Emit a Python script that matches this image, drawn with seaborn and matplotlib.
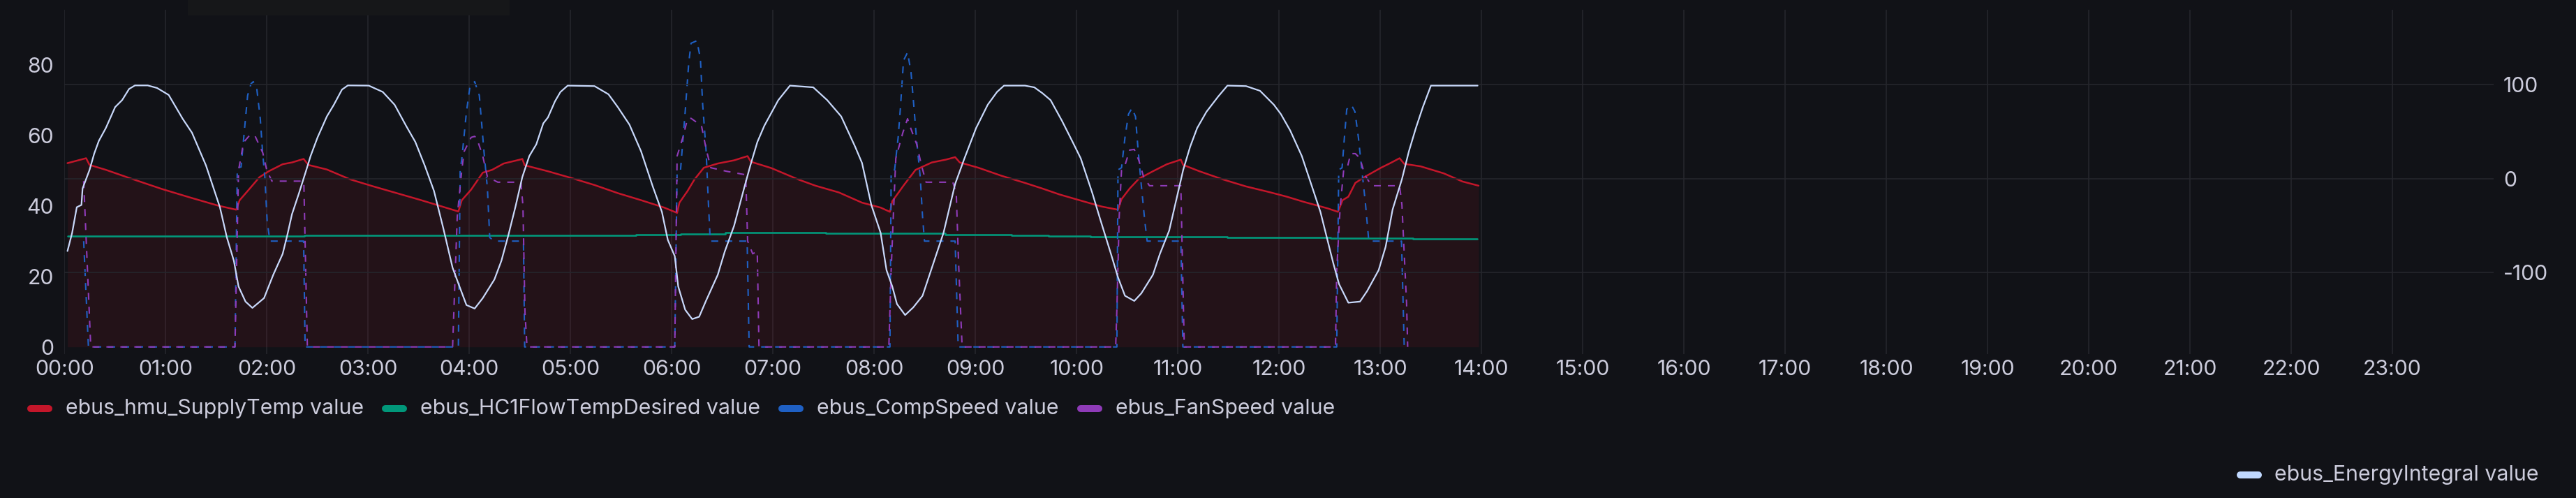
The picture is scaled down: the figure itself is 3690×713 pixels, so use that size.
import matplotlib
matplotlib.use("Agg")
import matplotlib.pyplot as plt
from matplotlib.lines import Line2D
from matplotlib.patches import FancyBboxPatch
import seaborn as sns
import pandas as pd

# ---------------- data (time in hours since 00:00) ----------------
supply_t = [0.03, 0.214, 0.248, 0.41, 0.64, 0.96, 1.237, 1.513, 1.697, 1.731, 1.834, 1.926, 2.018, 2.156,
            2.248, 2.363, 2.41, 2.593, 2.823, 3.053, 3.283, 3.513, 3.743, 3.892, 3.926, 4.018, 4.133, 4.225,
            4.34, 4.5, 4.524, 4.547, 4.777, 5.007, 5.237, 5.467, 5.697, 5.926, 6.053, 6.076, 6.156, 6.225,
            6.317, 6.455, 6.616, 6.749, 6.782, 6.984, 7.248, 7.421, 7.651, 7.88, 8.064, 8.156, 8.179, 8.294,
            8.409, 8.57, 8.708, 8.8, 8.846, 9.03, 9.26, 9.49, 9.662, 9.834, 10.064, 10.248, 10.409, 10.444,
            10.524, 10.616, 10.754, 10.892, 11.03, 11.053, 11.214, 11.444, 11.674, 11.903, 12.076, 12.248,
            12.478, 12.582, 12.628, 12.685, 12.754, 12.846, 13.007, 13.099, 13.191, 13.237, 13.398, 13.628,
            13.812, 13.972]
supply_v = [52.1, 53.5, 51.6, 50.2, 47.9, 44.8, 42.4, 40.1, 38.9, 41.6, 45.0, 48.1, 49.8, 51.8,
            52.3, 53.3, 51.6, 50.3, 47.5, 45.5, 43.6, 41.7, 39.7, 38.4, 41.6, 44.6, 49.4, 50.2,
            52.0, 53.1, 53.3, 51.5, 49.8, 47.9, 45.9, 43.6, 41.6, 39.5, 38.0, 40.9, 44.2, 47.5,
            50.8, 52.0, 52.9, 54.1, 52.5, 50.7, 47.5, 45.7, 43.8, 40.9, 39.5, 38.3, 41.3, 45.9,
            50.2, 52.3, 53.1, 53.8, 52.3, 50.8, 48.5, 46.5, 44.9, 43.2, 41.3, 39.8, 38.9, 41.9,
            44.9, 47.7, 49.8, 51.8, 53.1, 51.6, 49.8, 47.5, 45.5, 43.9, 42.6, 41.1,
            39.3, 38.3, 41.6, 42.6, 46.5, 48.2, 50.8, 52.1, 53.5, 51.9, 51.2, 49.2,
            46.9, 45.7]

flow_t = [0.03, 2.37, 5.65, 6.09, 6.53, 7.52, 8.70, 9.36, 9.72, 10.14, 11.49, 12.51, 13.32, 13.96]
flow_v = [31.5, 31.7, 31.9, 32.1, 32.4, 32.2, 31.9, 31.7, 31.5, 31.3, 31.0, 30.8, 30.7, 30.7]

comp_t = [0.19, 0.237, 1.685, 1.708, 1.745, 1.78, 1.81, 1.843, 1.866, 1.90, 1.935, 1.958, 1.98, 2.003, 2.03, 2.363, 2.378,
          3.892, 3.91, 3.926, 3.972, 4.007, 4.053, 4.099, 4.122, 4.145, 4.179, 4.202, 4.248, 4.535, 4.547,
          6.030, 6.053, 6.087, 6.133, 6.168, 6.191, 6.248, 6.283, 6.306, 6.34, 6.363, 6.381, 6.745, 6.765,
          8.156, 8.168, 8.202, 8.237, 8.26, 8.29, 8.33, 8.364, 8.387, 8.421, 8.455, 8.478, 8.497, 8.80, 8.83,
          10.398, 10.409, 10.444, 10.478, 10.513, 10.547, 10.582, 10.605, 10.639, 10.674, 10.697, 11.03, 11.05,
          12.57, 12.59, 12.623, 12.646, 12.669, 12.715, 12.75, 12.784, 12.818, 12.853, 12.887, 13.21, 13.237]
comp_v = [30, 0, 0, 50.8, 51, 62, 71.3, 74.6, 75.2, 73.3, 64.7, 55.1, 48.2, 35.6, 30, 30, 0,
          0, 50.2, 53.3, 66.7, 73.9, 75.2, 71.3, 63.4, 55.4, 44.9, 31, 30, 30, 0,
          0, 49.8, 50.2, 66.7, 80.5, 86.1, 86.8, 81.8, 68.6, 55.4, 40.3, 30, 30, 0,
          0, 49.8, 50.2, 59.4, 68, 81.2, 83.5, 77.9, 70, 58.1, 48.2, 37, 30, 30, 0,
          0, 50.2, 50.8, 59.4, 66, 67.7, 65.3, 56.8, 45.9, 35.6, 30, 30, 0,
          0, 50.2, 50.8, 59.4, 67.4, 68.6, 66.7, 59.4, 50.2, 40.9, 30, 30, 0]

fan_t = [0.19, 0.26, 1.685, 1.72, 1.77, 1.83, 1.88, 1.96, 2.0, 2.05, 2.365, 2.40,
         3.835, 3.881, 3.926, 3.949, 4.018, 4.053, 4.076, 4.133, 4.179, 4.282, 4.51, 4.53, 4.55, 4.57,
         6.03, 6.053, 6.11, 6.156, 6.191, 6.294, 6.34, 6.386, 6.54, 6.731, 6.75, 6.80, 6.845, 6.862,
         8.145, 8.168, 8.191, 8.214, 8.283, 8.33, 8.352, 8.421, 8.467, 8.513, 8.777, 8.811, 8.834, 8.869,
         10.386, 10.398, 10.421, 10.444, 10.478, 10.524, 10.57, 10.616, 10.662, 10.72, 11.03, 11.041, 11.064,
         12.558, 12.57, 12.604, 12.639, 12.674, 12.708, 12.754, 12.8, 12.846, 12.915, 13.191, 13.214, 13.26, 13.271]
fan_v = [47, 0, 0, 50, 58, 60, 60, 55, 50, 47, 47, 0,
         0, 37, 50.2, 55.4, 59.4, 59.7, 59, 54.1, 48.2, 46.7, 46.7, 40, 10, 0,
         0, 54.1, 59.4, 64.7, 64.8, 62.7, 56.1, 50.8, 49.8, 48.8, 30, 26.4, 27.1, 0,
         0, 21.8, 38.3, 53.5, 60.7, 64.7, 62.7, 57.4, 51.5, 46.7, 46.7, 43.6, 23.8, 0,
         0, 10.6, 37, 50.2, 51.5, 55.8, 56, 52.8, 48.2, 45.7, 45.7, 30.4, 0,
         0, 21.8, 39.6, 50.2, 50.8, 54.8, 54.8, 53.5, 48.8, 45.7, 45.7, 40.3, 12.5, 0]

energy_t = [0.03, 0.076, 0.122, 0.168, 0.179, 0.248, 0.294, 0.34, 0.409, 0.501, 0.57, 0.639, 0.697, 0.823, 0.915,
            1.03, 1.168, 1.26, 1.398, 1.467, 1.536, 1.605, 1.674, 1.72, 1.789, 1.857, 1.972, 2.064, 2.156, 2.202,
            2.248, 2.317, 2.386, 2.432,
            2.501, 2.593, 2.662, 2.742, 2.8, 3.007, 3.145, 3.262, 3.375, 3.467, 3.559, 3.651, 3.743, 3.835, 3.903,
            3.972, 4.053, 4.133, 4.248, 4.317, 4.386, 4.455, 4.524, 4.593, 4.662, 4.731, 4.777, 4.846, 4.9,
            4.972, 5.237, 5.375, 5.467, 5.582, 5.697, 5.812, 5.903, 5.961, 6.03, 6.064, 6.133, 6.202, 6.271, 6.34,
            6.455, 6.524, 6.616, 6.72, 6.777, 6.846, 6.915, 6.984, 7.053, 7.168,
            7.398, 7.536, 7.674, 7.812, 7.88, 7.972, 8.064, 8.122, 8.179, 8.225, 8.306, 8.386, 8.478, 8.593, 8.685,
            8.8, 8.892, 9.007, 9.122, 9.214, 9.283, 9.49, 9.582, 9.662,
            9.743, 9.857, 9.961, 10.041, 10.156, 10.225, 10.34, 10.409, 10.478, 10.57, 10.639, 10.754, 10.823,
            10.915, 10.984, 11.053, 11.122, 11.191, 11.283, 11.398, 11.49, 11.674, 11.812, 11.949,
            12.018, 12.11, 12.225, 12.317, 12.409, 12.478, 12.536, 12.593, 12.685, 12.8, 12.87, 12.984, 13.053,
            13.122, 13.214, 13.283, 13.352, 13.421, 13.501, 13.962]
energy_v = [-77, -57.7, -30.4, -28, -10.6, 9.2, 26.5, 40.1, 53.7, 76, 83.4, 95.3, 99, 99, 96.3,
            88.9, 63.6, 48.8, 14.1, -8.2, -30.4, -62.6, -87.4, -114.6, -130.7, -137.4, -127, -102, -80, -60,
            -37.9, -15.6, 7.9, 24,
            43.8, 66.1, 78.5, 94.6, 99, 98.8, 92.1, 78.5, 56.2, 38.9, 14.1, -13.1, -52.7, -94.8, -114.6,
            -134.4, -138.1, -127, -107.2, -87.4, -60.1, -30.4, 1.7, 24, 36.4, 58.7, 65, 82, 92,
            98.8, 98.3, 89.6, 76, 57.4, 29, -8.2, -35.4, -65.1, -82.4, -114.6, -139.4, -149.3, -146.8, -129.5,
            -102.2, -77.5, -50.2, -8.2, 14.1, 38.9, 56.2, 69.8, 83.4, 98.8,
            97, 83.4, 66.1, 33.9, 16.6, -28, -57.7, -97.3, -114.6, -133.2, -145, -136.9, -124.5, -87.4, -57.7,
            -5.7, 21.5, 53.7, 78.5, 92.1, 98.8, 98.8, 97, 90.8,
            83.4, 61.1, 38.9, 21.5, -15.6, -40.3, -80.2, -104.9, -124.5, -130, -122, -102.2, -80,
            -55.2, -23, 9.2, 33.9, 53.7, 71, 87.1, 98.8, 98.3, 93.3, 78.5,
            68.6, 51.2, 24, -5.7, -35.4, -65.1, -89.9, -112.1, -131.9, -130.7, -119.6, -97.3, -72.5,
            -32.9, -0.7, 29, 53.7, 76, 98.8, 98.8]

hour_ticks = list(range(24))
hour_labels = [f"{h:02d}:00" for h in hour_ticks]
left_ticks = [0, 20, 40, 60, 80]
right_ticks = [-100, 0, 100]
legend_left = ["ebus_hmu_SupplyTemp value", "ebus_HC1FlowTempDesired value",
               "ebus_CompSpeed value", "ebus_FanSpeed value"]
legend_right = "ebus_EnergyIntegral value"

# ---------------- style ----------------
BG = "#111217"
TEXT = "#CCCCDC"
GRID = "#25262C"
RED = "#C4162A"
GREEN = "#01977A"
BLUE = "#1F60C4"
PURPLE = "#8F3BB8"
WHITE = "#C8D8FA"
FS = 21.8

sns.set_style("dark")
plt.rcParams["font.family"] = ["Inter", "DejaVu Sans"]
plt.rcParams["lines.scale_dashes"] = False
plt.rcParams["axes.unicode_minus"] = False

W, H = 3690, 713
fig = plt.figure(figsize=(W / 100, H / 100), dpi=100, facecolor=BG)
L, R, T, B = 92.3, 3572, 14, 506.7
ax = fig.add_axes([L / W, 1 - B / H, (R - L) / W, (B - T) / H])
ax.set_facecolor(BG)
ax2 = ax.twinx()
ax2.patch.set_visible(False)

ax.set_xlim(0, 24)
ax.grid(axis="x", color=GRID, linewidth=1.2)
ax.grid(axis="y", visible=False)
ax.set_axisbelow(True)

# series on left axis
df_s = pd.DataFrame({"t": supply_t, "v": supply_v})
ax.fill_between(df_s["t"], df_s["v"], 0, color=RED, alpha=0.10, linewidth=0)
sns.lineplot(data=df_s, x="t", y="v", ax=ax, color=RED, linewidth=1.8, estimator=None, sort=False)
df_f = pd.DataFrame({"t": flow_t, "v": flow_v})
sns.lineplot(data=df_f, x="t", y="v", ax=ax, color=GREEN, linewidth=1.9, estimator=None, sort=False,
             drawstyle="steps-post")
df_c = pd.DataFrame({"t": comp_t, "v": comp_v})
sns.lineplot(data=df_c, x="t", y="v", ax=ax, color=BLUE, linewidth=1.5, estimator=None, sort=False)
ax.lines[-1].set_dashes([7.2, 7.2])
df_fan = pd.DataFrame({"t": fan_t, "v": fan_v})
sns.lineplot(data=df_fan, x="t", y="v", ax=ax, color=PURPLE, linewidth=1.5, estimator=None, sort=False)
ax.lines[-1].set_dashes([7.2, 7.2])

ax.set_ylim(-1.98, 95.58)
ax.set_yticks(left_ticks)

# right axis
df_e = pd.DataFrame({"t": energy_t, "v": energy_v})
sns.lineplot(data=df_e, x="t", y="v", ax=ax2, color=WHITE, linewidth=1.6, estimator=None, sort=False)
ax2.set_ylim(-186.3, 179.4)
ax2.set_yticks(right_ticks)
ax2.grid(axis="y", color=GRID, linewidth=1.2)
ax2.grid(axis="x", visible=False)

for a in (ax, ax2):
    a.set_xlim(0, 24)
    a.set_xlabel("")
    a.set_ylabel("")
    for s in a.spines.values():
        s.set_visible(False)
ax.set_xticks(hour_ticks)
ax.set_xticklabels(hour_labels)
ax.tick_params(axis="x", length=0, colors=TEXT, labelsize=FS, pad=6)
ax.tick_params(axis="y", length=0, colors=TEXT, labelsize=FS, pad=11)
ax2.tick_params(axis="y", length=0, colors=TEXT, labelsize=FS, pad=10)

# top header box
fig.add_artist(FancyBboxPatch((269 / W, 1 - 22 / H), (730 - 269) / W, 22 / H,
                              boxstyle="square,pad=0", transform=fig.transFigure,
                              facecolor="#161719", edgecolor="none"))

# legends
renderer = fig.canvas.get_renderer()
colors = [RED, GREEN, BLUE, PURPLE]
x = 39.0
yc = 585
for label, col in zip(legend_left, colors):
    fig.add_artist(Line2D([(x + 5) / W, (x + 31) / W], [(H - yc) / H] * 2, transform=fig.transFigure,
                          color=col, linewidth=7.2, solid_capstyle="round"))
    tx = x + 36 + 19
    t = fig.text(tx / W, (H - yc) / H, label, color=TEXT, fontsize=FS, ha="left", va="center")
    wpx = t.get_window_extent(renderer).width
    x = tx + wpx + 26

yc2 = 680
t = fig.text(3637 / W, (H - yc2) / H, legend_right, color=TEXT, fontsize=FS, ha="right", va="center")
wpx = t.get_window_extent(renderer).width
sx = 3637 - wpx - 19 - 36
fig.add_artist(Line2D([(sx + 5) / W, (sx + 31) / W], [(H - yc2) / H] * 2, transform=fig.transFigure,
                      color="#C0D8FF", linewidth=7.2, solid_capstyle="round"))

fig.savefig("out.png", dpi=100, facecolor=BG)
